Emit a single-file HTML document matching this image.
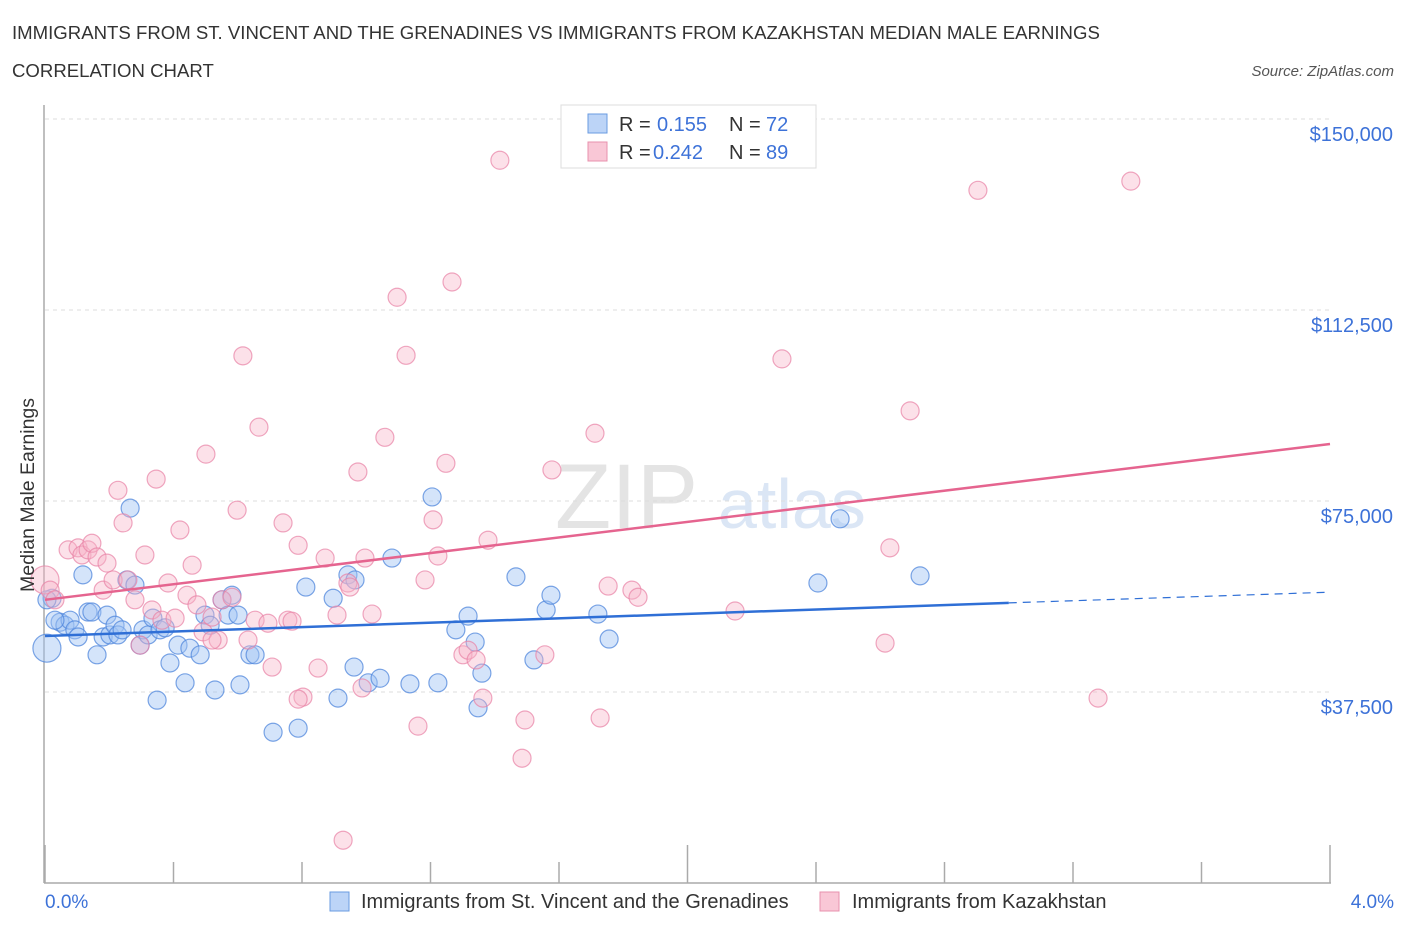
<!DOCTYPE html>
<html><head><meta charset="utf-8"><style>
body{margin:0;background:#fff;font-family:"Liberation Sans",sans-serif;}
svg text{font-family:"Liberation Sans",sans-serif;}
</style></head><body>
<svg id="chart" width="1406" height="930" xmlns="http://www.w3.org/2000/svg">
<text x="12" y="39" font-size="18.6" fill="#333">IMMIGRANTS FROM ST. VINCENT AND THE GRENADINES VS IMMIGRANTS FROM KAZAKHSTAN MEDIAN MALE EARNINGS</text>
<text x="12" y="77" font-size="18.6" fill="#333">CORRELATION CHART</text>
<text x="1394" y="76" font-size="15" fill="#555" text-anchor="end" font-style="italic">Source: ZipAtlas.com</text>
<text x="555" y="528" font-size="92" fill="#e4e4e4" font-family="Liberation Serif">ZIP</text>
<text x="718" y="528" font-size="70" fill="#dbe6f5">atlas</text>
<g id="grid"></g><g id="axes"></g><g id="pts"></g><g id="lines"></g>
<text transform="translate(34,495) rotate(-90)" font-size="19.5" fill="#333" text-anchor="middle">Median Male Earnings</text>
<g>
<rect x="561" y="105" width="255" height="63" fill="#fff" stroke="#ddd"/>
<rect x="588" y="114" width="19" height="19" fill="#bcd4f7" stroke="#6a9be0"/>
<text x="619" y="131" font-size="20" fill="#333">R =</text><text x="657" y="131" font-size="20" fill="#3d72d8">0.155</text>
<text x="729" y="131" font-size="20" fill="#333">N =</text><text x="766" y="131" font-size="20" fill="#3d72d8">72</text>
<rect x="588" y="142" width="19" height="19" fill="#f9c7d6" stroke="#e891ad"/>
<text x="619" y="159" font-size="20" fill="#333">R =</text><text x="653" y="159" font-size="20" fill="#3d72d8">0.242</text>
<text x="729" y="159" font-size="20" fill="#333">N =</text><text x="766" y="159" font-size="20" fill="#3d72d8">89</text>
</g>
<g>
<rect x="330" y="892" width="19" height="19" fill="#bcd4f7" stroke="#6a9be0"/>
<text x="361" y="908" font-size="20" fill="#333">Immigrants from St. Vincent and the Grenadines</text>
<rect x="820" y="892" width="19" height="19" fill="#f9c7d6" stroke="#e891ad"/>
<text x="852" y="908" font-size="20" fill="#333">Immigrants from Kazakhstan</text>
</g>
<text x="45" y="908" font-size="19" fill="#3d72d8">0.0%</text>
<text x="1394" y="908" font-size="19" fill="#3d72d8" text-anchor="end">4.0%</text>
</svg>
<script>
const yTicks=[37500,75000,112500,150000];
const yTickLabels=["$37,500","$75,000","$112,500","$150,000"];
const blueX=[.006,.022,.047,.062,.078,.093,.103,.118,.134,.146,.162,.181,.193,.202,.218,.227,.240,.255,.265,.280,.296,.305,.321,.336,.349,.358,.374,.389,.414,.436,.451,.483,.498,.514,.529,.551,.570,.582,.601,.607,.638,.654,.710,.788,.812,.897,.912,.943,.965,.962,1.006,1.043,1.080,1.136,1.205,1.223,1.279,1.317,1.339,1.348,1.360,1.466,1.522,1.560,1.575,1.721,1.756,2.406,2.475,2.724,.006,.031];
const blueY=[46.1,55.9,51.2,50.6,51.6,49.7,48.3,60.5,53.2,53.2,44.8,48.3,52.6,48.7,50.6,48.7,49.7,59.5,73.6,58.5,46.7,49.7,48.7,52.0,35.9,49.7,50.1,43.2,46.7,39.3,46.1,44.8,52.6,50.6,37.9,55.6,52.6,56.5,52.6,38.9,44.8,44.8,29.6,30.4,58.1,55.9,36.3,60.5,59.5,42.4,39.3,40.2,63.8,39.1,75.8,39.3,49.7,52.4,47.3,34.4,41.2,60.1,43.8,53.6,56.5,52.8,47.9,58.9,71.5,60.3,55.6,51.6];
const pinkX=[0,.016,.031,.072,.103,.115,.134,.146,.162,.181,.193,.212,.227,.243,.258,.280,.296,.311,.333,.346,.364,.383,.405,.420,.442,.458,.473,.492,.501,.520,.539,.551,.582,.598,.616,.632,.654,.666,.694,.707,.741,.756,.769,.788,.803,.850,.872,.909,.943,.949,.974,.987,.996,1.018,.928,1.058,1.096,1.124,1.161,1.183,1.208,1.223,1.248,1.267,1.301,1.317,1.342,1.363,1.379,1.416,1.494,1.556,1.578,1.712,1.728,1.753,1.827,1.846,2.148,2.294,2.615,2.630,2.693,2.904,3.278,3.380,1.485,.788,.520];
const pinkY=[59.5,57.5,55.6,65.4,65.8,64.4,65.4,66.7,64.0,57.5,62.8,59.5,77.1,70.7,59.5,55.6,46.7,64.4,53.6,79.3,51.6,58.9,52.0,69.3,56.5,62.4,54.6,49.3,84.2,52.2,47.7,55.6,56.1,73.2,103.5,47.7,51.6,89.5,51.0,42.4,70.7,51.6,51.4,66.3,36.5,42.2,63.8,52.6,58.9,58.1,80.7,38.3,63.8,52.8,8.4,87.5,115.0,103.6,30.8,59.5,71.3,64.2,82.4,118.0,44.8,45.7,43.8,36.3,67.3,141.9,32.0,44.8,81.1,88.3,32.4,58.3,57.5,56.1,53.4,102.9,47.1,65.8,92.7,136.0,36.3,137.8,24.5,36.1,47.7];
const blueTrend=[48.5,55.0,57.1]; // at x=0, 3.0, 4.0
const pinkTrend=[55.6,86.2];       // at x=0, 4.0
const xTicks=[0,.4,.8,1.2,1.6,2.0,2.4,2.8,3.2,3.6,4.0];
const X=v=>45+v/4*1285, Y=v=>883-v/37.5*191;
const NS="http://www.w3.org/2000/svg";
function mk(p,t,a){const e=document.createElementNS(NS,t);for(const k in a)e.setAttribute(k,a[k]);document.getElementById(p).appendChild(e);return e;}
yTicks.forEach((t,i)=>{
 const l=mk('grid','line',{x1:45,x2:1330,y1:Y(t/1000),y2:Y(t/1000),stroke:'#ddd','stroke-dasharray':'4,4'});
 
 
 const tx=mk('grid','text',{x:1393,y:Y(t/1000)+22,'font-size':20,fill:'#3d72d8','text-anchor':'end'});
 tx.textContent=yTickLabels[i];
 
 
});
const ya=mk('axes','line',{x1:44,x2:44,y1:105,y2:883,stroke:'#aaa','stroke-width':1.5});


const xa=mk('axes','line',{x1:44,x2:1331,y1:883,y2:883,stroke:'#aaa','stroke-width':1.5});


xTicks.forEach((t,i)=>{
 const tk=mk('axes','line',{x1:X(t),x2:X(t),y1:i%5==0?845:862,y2:883,stroke:'#aaa','stroke-width':1.5});
 
 
});
function pts(xs,ys,fill,stroke,name){
 xs.forEach((x,i)=>{
  const r=(x<0.01&&(i===0))?14:9;
  const c=mk('pts','circle',{cx:X(x),cy:Y(ys[i]),r:r,fill:fill,stroke:stroke,'stroke-width':1.2});
  
  
 });
}
pts(blueX,blueY,'rgba(160,195,245,0.45)','rgba(80,135,220,0.75)','blue-point');
pts(pinkX,pinkY,'rgba(248,180,200,0.4)','rgba(232,130,165,0.7)','pink-point');
let l=mk('lines','line',{x1:X(0),y1:Y(blueTrend[0]),x2:X(3.0),y2:Y(blueTrend[1]),stroke:'#2f6fd6','stroke-width':2.5});


l=mk('lines','line',{x1:X(3.0),y1:Y(blueTrend[1]),x2:X(4.0),y2:Y(blueTrend[2]),stroke:'#2f6fd6','stroke-width':1.2,'stroke-dasharray':'8,6'});


l=mk('lines','line',{x1:X(0),y1:Y(pinkTrend[0]),x2:X(4.0),y2:Y(pinkTrend[1]),stroke:'#e5648f','stroke-width':2.5});


</script>
</body></html>
